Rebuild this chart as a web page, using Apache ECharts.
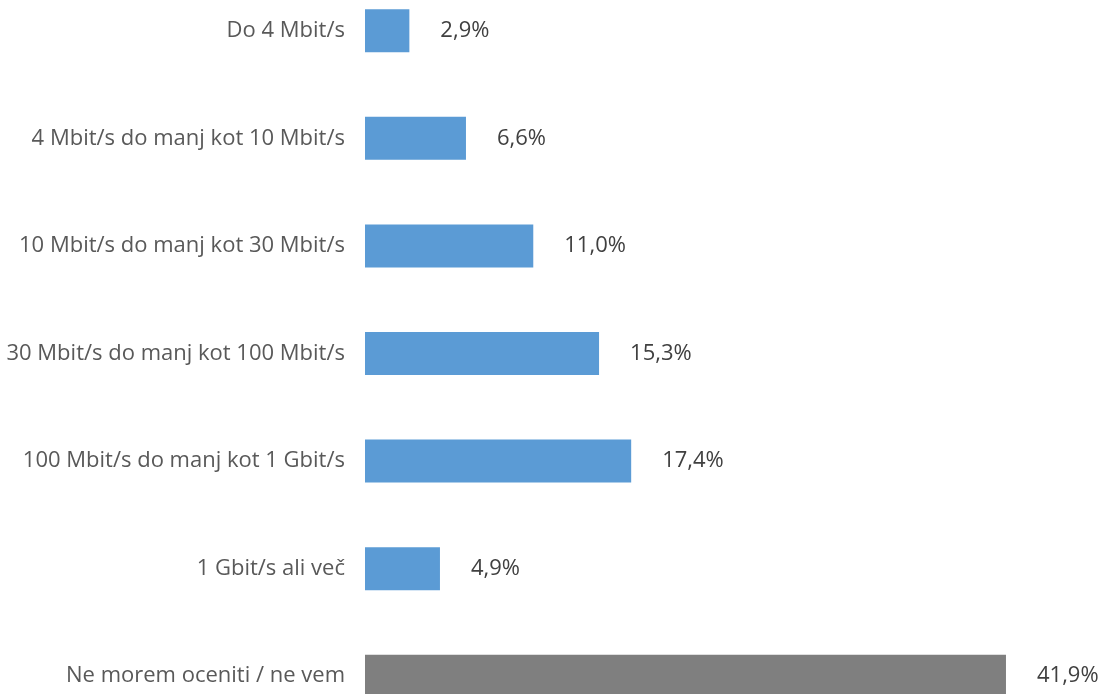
<!DOCTYPE html>
<html><head><meta charset="utf-8">
<script src="https://cdn.jsdelivr.net/npm/echarts@6/dist/echarts.min.js"></script>
<style>html,body{margin:0;padding:0;background:#fff;overflow:hidden}#c{position:absolute;left:0;top:-23px;width:1102px;height:753px}</style>
</head><body><div id="c"></div>
<script>
const categories = ["Do 4 Mbit/s","4 Mbit/s do manj kot 10 Mbit/s","10 Mbit/s do manj kot 30 Mbit/s","30 Mbit/s do manj kot 100 Mbit/s","100 Mbit/s do manj kot 1 Gbit/s","1 Gbit/s ali več","Ne morem oceniti / ne vem"];
const values = [2.9, 6.6, 11.0, 15.3, 17.4, 4.9, 41.9];
const colors = ["#5B9BD5","#5B9BD5","#5B9BD5","#5B9BD5","#5B9BD5","#5B9BD5","#7F7F7F"];
const font = "Open Sans";
const chart = echarts.init(document.getElementById('c'));
chart.setOption({
  animation:false,
  grid:{left:365, right:48.6, top:0, bottom:0, containLabel:false},
  xAxis:{type:'value', min:0, max:45, show:false},
  yAxis:{type:'category', data:categories, inverse:true,
    axisLine:{show:false}, axisTick:{show:false},
    axisLabel:{margin:20, fontFamily:font, fontSize:22, color:'#595959'}},
  series:[{type:'bar', barWidth:43,
    data:values.map((v,i)=>({value:v, itemStyle:{color:colors[i]}})),
    label:{show:true, position:'right', distance:31, fontFamily:font, fontSize:22, color:'#404040',
      formatter:p=>p.value.toFixed(1).replace('.',',')+'%'}
  }]
});
</script></body></html>
